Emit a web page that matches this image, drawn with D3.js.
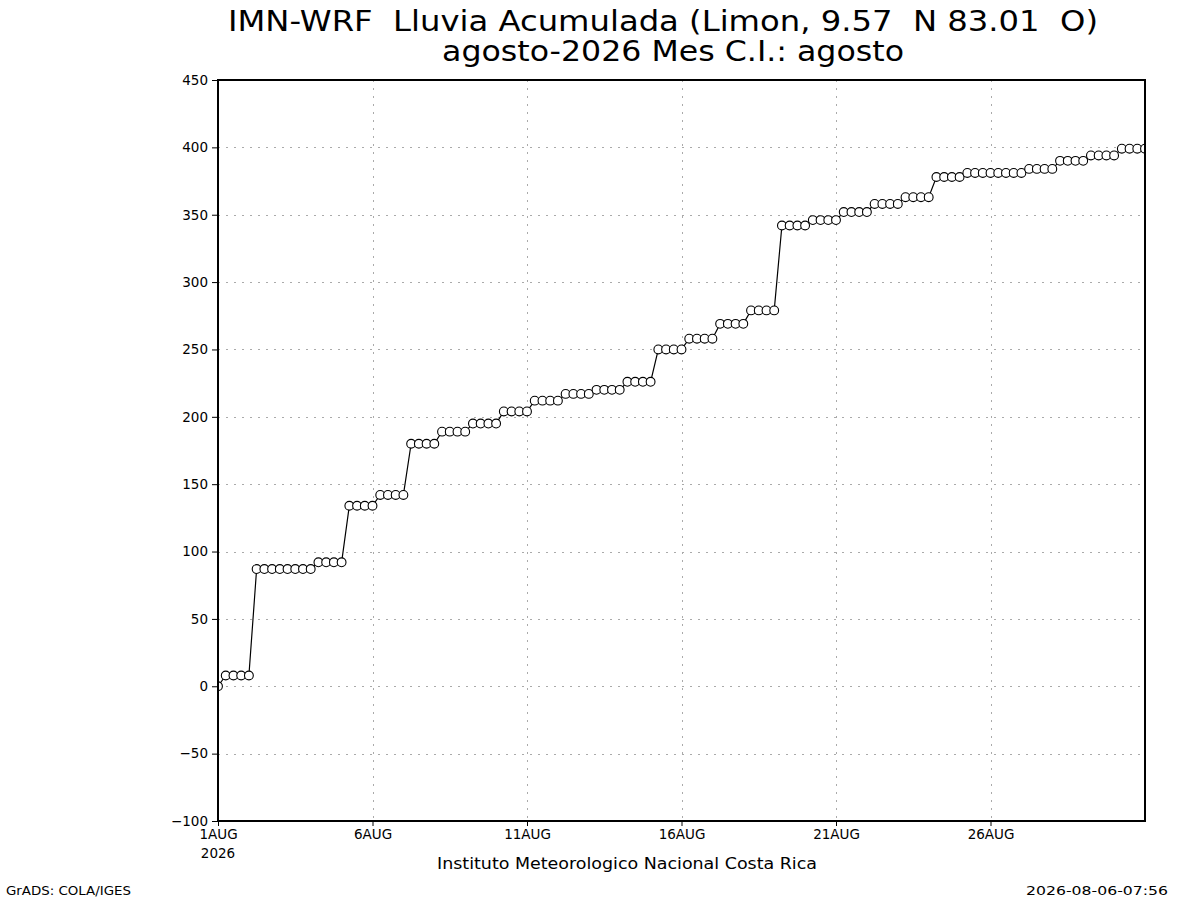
<!DOCTYPE html>
<html>
<head>
<meta charset="utf-8">
<script src="https://cdn.jsdelivr.net/npm/d3@7"></script>
<style>
  html, body { margin: 0; padding: 0; background: #fff; }
  svg { display: block; }
  text { font-family: "DejaVu Sans", sans-serif; fill: #000; }
</style>
</head>
<body>
<div id="chart"></div>
<script>
// Accumulated rain (mm), one value every 6 hours starting 1 Aug 2026 00Z
const rainValues = [
    0,
    8, 8, 8, 8,
    87, 87, 87, 87, 87, 87, 87, 87,
    92, 92, 92, 92,
    134, 134, 134, 134,
    142, 142, 142, 142,
    180, 180, 180, 180,
    189, 189, 189, 189,
    195, 195, 195, 195,
    204, 204, 204, 204,
    212, 212, 212, 212,
    217, 217, 217, 217,
    220, 220, 220, 220,
    226, 226, 226, 226,
    250, 250, 250, 250,
    258, 258, 258, 258,
    269, 269, 269, 269,
    279, 279, 279, 279,
    342, 342, 342, 342,
    346, 346, 346, 346,
    352, 352, 352, 352,
    358, 358, 358, 358,
    363, 363, 363, 363,
    378, 378, 378, 378,
    381, 381, 381, 381, 381, 381, 381, 381,
    384, 384, 384, 384,
    390, 390, 390, 390,
    394, 394, 394, 394,
    399, 399, 399, 399
];
const yTicks = [-100, -50, 0, 50, 100, 150, 200, 250, 300, 350, 400, 450];
const xTickDays = [1, 6, 11, 16, 21, 26];
const xTickLabels = ["1AUG", "6AUG", "11AUG", "16AUG", "21AUG", "26AUG"];
const titleLines = [
    "IMN-WRF  Lluvia Acumulada (Limon, 9.57  N 83.01  O)",
    "agosto-2026 Mes C.I.: agosto"
];

const width = 1200, height = 900;
const plot = { left: 218, right: 1145, top: 80, bottom: 821 };

const start = Date.UTC(2026, 7, 1);
const stepMs = 6 * 3600 * 1000;
const points = rainValues.map((v, i) => ({ t: new Date(start + i * stepMs), v }));

const x = d3.scaleUtc()
    .domain([new Date(start), new Date(Date.UTC(2026, 7, 31))])
    .range([plot.left, plot.right]);
const y = d3.scaleLinear()
    .domain([-100, 450])
    .range([plot.bottom, plot.top]);

const svg = d3.select("#chart").append("svg")
    .attr("width", width)
    .attr("height", height);

svg.append("defs").append("clipPath").attr("id", "plotclip")
    .append("rect")
    .attr("x", plot.left).attr("y", plot.top)
    .attr("width", plot.right - plot.left)
    .attr("height", plot.bottom - plot.top);

// grid
const grid = svg.append("g")
    .style("stroke", "#aaa")
    .style("stroke-width", 1)
    .style("stroke-dasharray", "2,6");
grid.selectAll("line.h").data(yTicks).join("line")
    .attr("class", "h")
    .attr("x1", plot.left).attr("x2", plot.right)
    .attr("y1", d => Math.round(y(d)) + 0.5)
    .attr("y2", d => Math.round(y(d)) + 0.5);
grid.selectAll("line.v").data(xTickDays.slice(1)).join("line")
    .attr("class", "v")
    .attr("y1", plot.top).attr("y2", plot.bottom)
    .attr("x1", d => Math.round(x(new Date(Date.UTC(2026, 7, d)))) + 0.5)
    .attr("x2", d => Math.round(x(new Date(Date.UTC(2026, 7, d)))) + 0.5);

// series
const g = svg.append("g").attr("clip-path", "url(#plotclip)");
g.append("path")
    .datum(points)
    .attr("fill", "none")
    .attr("stroke", "#000")
    .attr("stroke-width", 1.2)
    .attr("d", d3.line().x(d => x(d.t)).y(d => y(d.v)));
g.selectAll("circle").data(points).join("circle")
    .attr("cx", d => x(d.t))
    .attr("cy", d => y(d.v))
    .attr("r", 4.4)
    .attr("fill", "#fff")
    .attr("stroke", "#000")
    .attr("stroke-width", 1.1);

// frame
svg.append("rect")
    .attr("x", plot.left).attr("y", plot.top)
    .attr("width", plot.right - plot.left)
    .attr("height", plot.bottom - plot.top)
    .attr("fill", "none")
    .attr("stroke", "#000")
    .attr("stroke-width", 2);

// y axis
const yAxis = d3.axisLeft(y)
    .tickValues(yTicks)
    .tickSize(6)
    .tickPadding(4)
    .tickFormat(d => d < 0 ? "\u2212" + Math.abs(d) : d);
const ya = svg.append("g")
    .attr("transform", `translate(${plot.left},0)`)
    .call(yAxis);
ya.select(".domain").remove();
ya.selectAll("text")
    .style("font-family", "'DejaVu Sans', sans-serif")
    .style("font-size", "13.5px");

// x axis
const xAxis = d3.axisBottom(x)
    .tickValues(xTickDays.map(d => new Date(Date.UTC(2026, 7, d))))
    .tickSize(5)
    .tickPadding(3)
    .tickFormat((d, i) => xTickLabels[i]);
const xa = svg.append("g")
    .attr("transform", `translate(0,${plot.bottom})`)
    .call(xAxis);
xa.select(".domain").remove();
xa.selectAll("text")
    .style("font-family", "'DejaVu Sans', sans-serif")
    .style("font-size", "13.5px");

svg.append("text")
    .attr("x", x(new Date(start)))
    .attr("y", 858)
    .attr("text-anchor", "middle")
    .style("font-size", "13.5px")
    .text("2026");

// titles
svg.append("text")
    .attr("x", 663).attr("y", 31)
    .attr("text-anchor", "middle")
    .attr("textLength", 870)
    .attr("lengthAdjust", "spacingAndGlyphs")
    .style("font-size", "28px")
    .style("white-space", "pre")
    .text(titleLines[0]);
svg.append("text")
    .attr("x", 673).attr("y", 61)
    .attr("text-anchor", "middle")
    .attr("textLength", 462)
    .attr("lengthAdjust", "spacingAndGlyphs")
    .style("font-size", "28px")
    .style("white-space", "pre")
    .text(titleLines[1]);

svg.append("text")
    .attr("x", 627).attr("y", 869)
    .attr("text-anchor", "middle")
    .attr("textLength", 380)
    .attr("lengthAdjust", "spacingAndGlyphs")
    .style("font-size", "16px")
    .text("Instituto Meteorologico Nacional Costa Rica");

svg.append("text")
    .attr("x", 6).attr("y", 895)
    .attr("textLength", 125)
    .attr("lengthAdjust", "spacingAndGlyphs")
    .style("font-size", "13px")
    .text("GrADS: COLA/IGES");

svg.append("text")
    .attr("x", 1168).attr("y", 895)
    .attr("text-anchor", "end")
    .attr("textLength", 142)
    .attr("lengthAdjust", "spacingAndGlyphs")
    .style("font-size", "13px")
    .text("2026-08-06-07:56");
</script>
</body>
</html>
